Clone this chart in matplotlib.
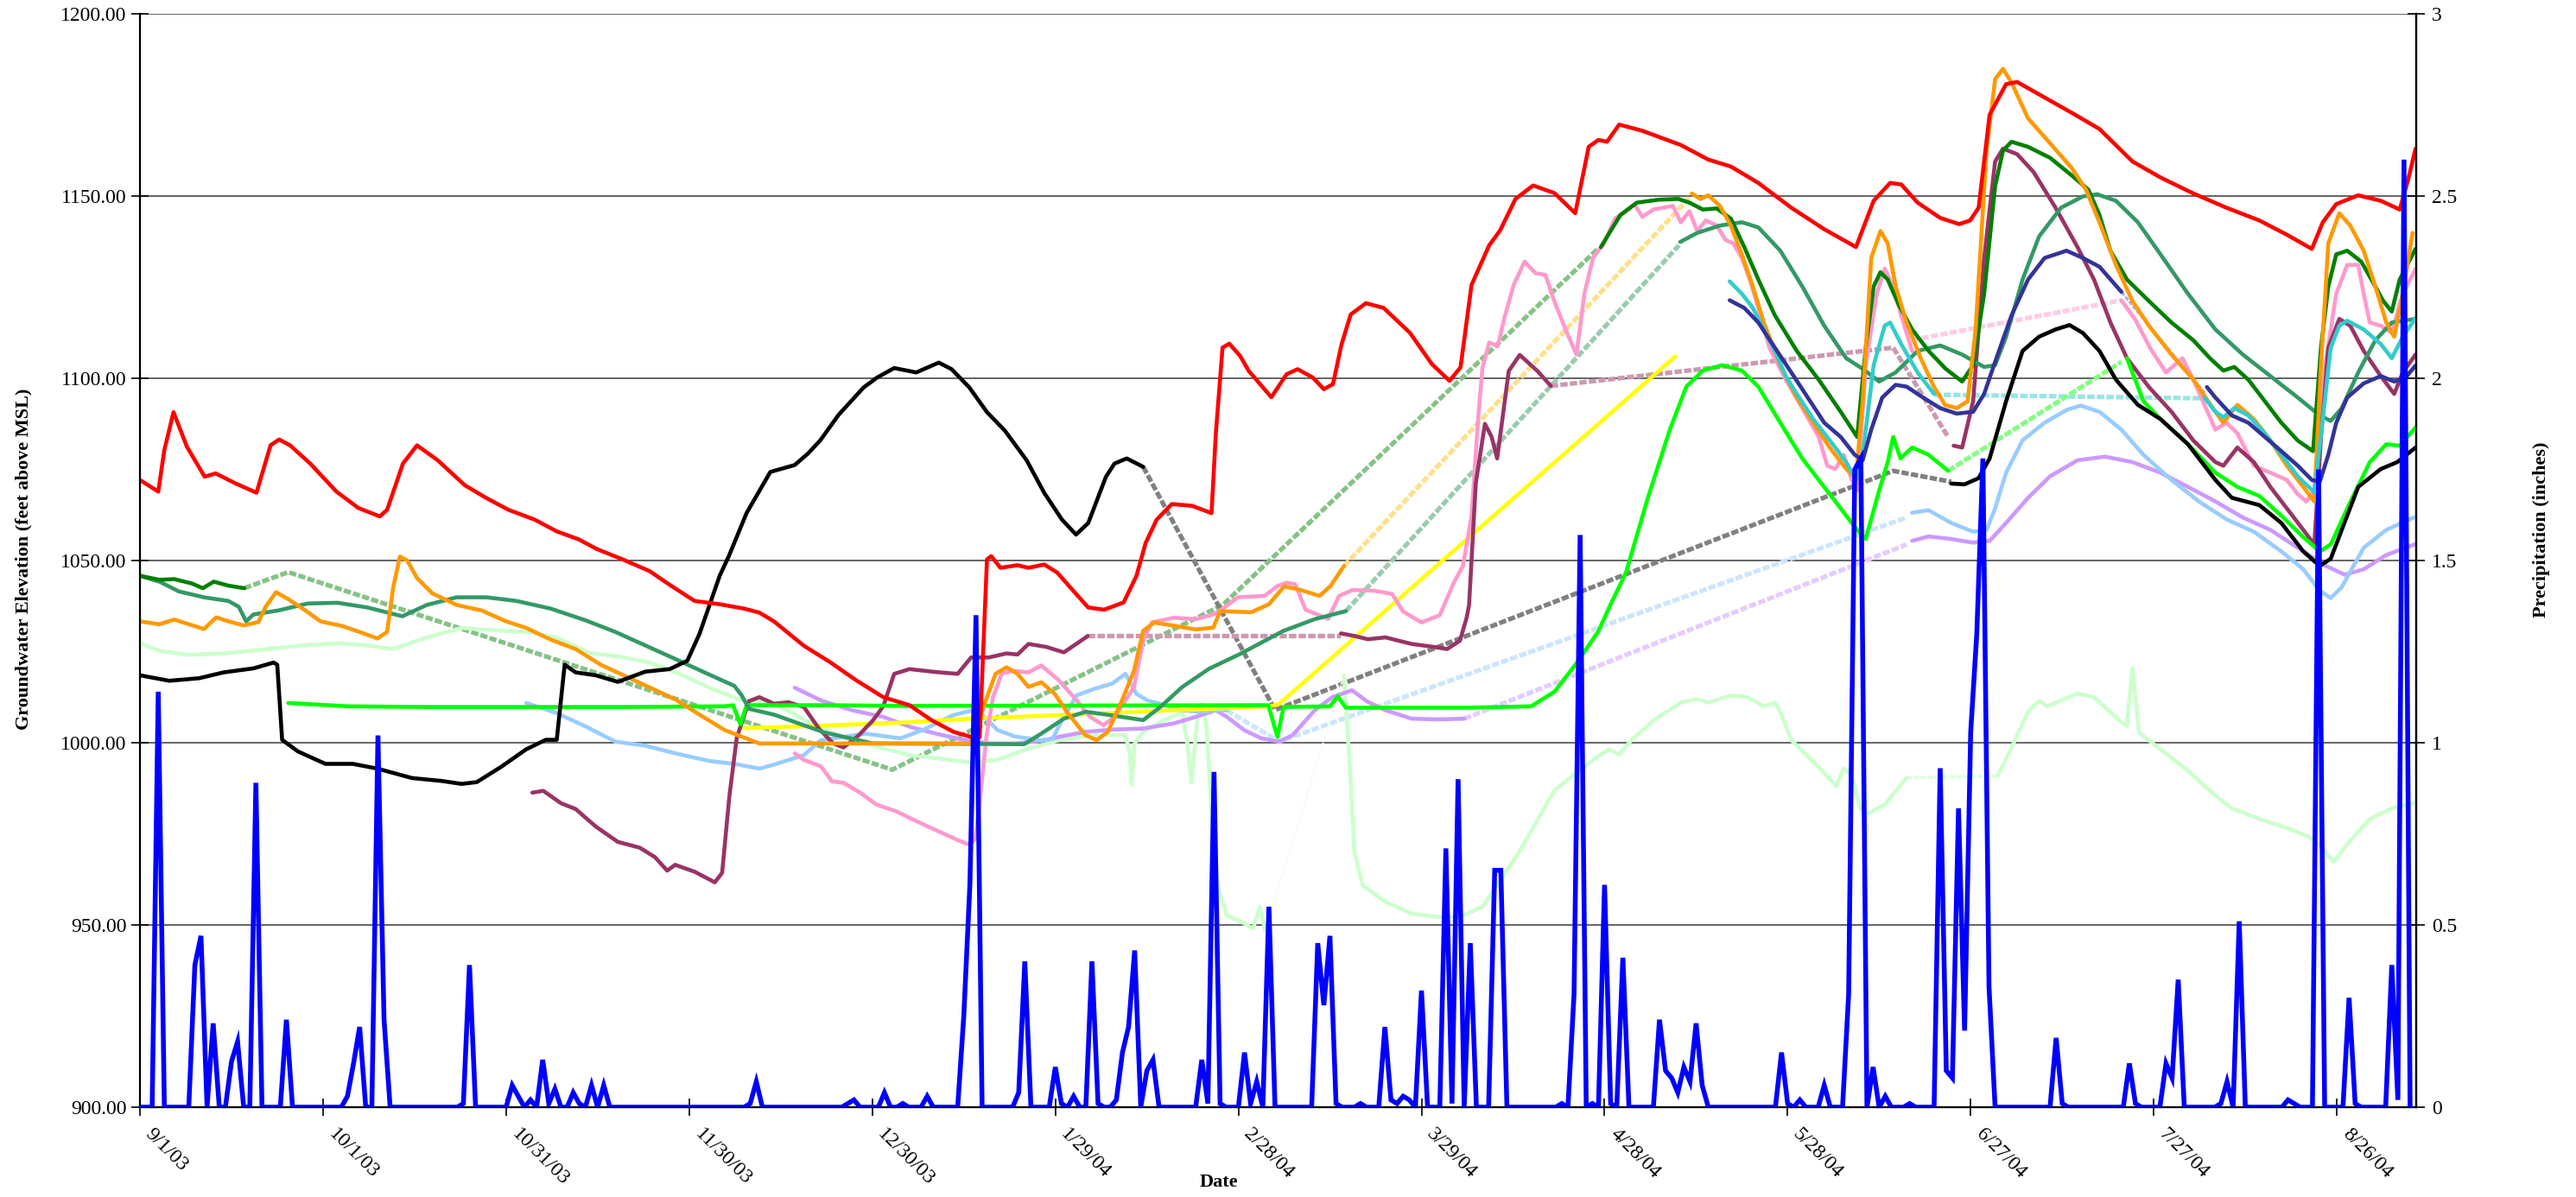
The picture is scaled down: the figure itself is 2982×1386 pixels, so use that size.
import datetime
import numpy as np
import matplotlib
matplotlib.use("Agg")
import matplotlib.pyplot as plt
import matplotlib.dates as mdates
import matplotlib.transforms as mtransforms
from matplotlib.ticker import FixedLocator, FuncFormatter

plt.rcParams['font.family'] = ['Liberation Serif', 'DejaVu Serif']

START = datetime.datetime(2003, 9, 1)
N_DAYS = 373
TICK_STEP = 30

# ---------------- groundwater series (day offset from 9/1/03, elevation ft) ----------------
red_days = [0,3,4,5.5,7.7,10.6,12.4,15.6,19.1,21.4,22.8,24.6,27.9,32.2,35.8,39.3,40.5,43.1,45.4,48.8,53.2,56.8,60.4,64.7,68.3,71.9,74.8,79.1,83.5,87.1,90.9,95,99,101.5,103.9,108.8,113.1,117.4,121.8,126.1,129.7,133.3,136.2,137.6,138.8,139.5,141,143.8,145.6,148.2,150.3,153.2,155.4,158,161.2,163.3,164.8,166.6,169.1,172.4,175.6,176.3,177.4,178.5,180.3,181.7,185.4,187.9,189.7,192.2,194,195.5,196.9,198.4,200.9,203.8,208.1,211.7,214.6,216.4,218.2,221.1,222.9,225.4,228.3,231.8,235.2,237.4,239,240.4,242.4,246.2,252.5,257,260.7,265.2,270.6,276,281.2,284.1,286.8,288.6,291.3,295,298.1,299.9,301.3,303.1,305.8,307.6,313,316.6,321.1,326.5,331.1,336.5,341.9,347.3,351.8,355.9,357.7,359.9,363.5,367.2,370.3,371.7,372.9]
red_vals = [1072.1,1068.9,1080.3,1090.7,1081.2,1073,1073.9,1071.2,1068.6,1081.6,1083.2,1081.6,1076.6,1068.9,1064.4,1062.1,1063.9,1076.6,1081.6,1077.5,1070.7,1067.1,1063.9,1061.2,1058,1055.8,1053.2,1050.3,1047.1,1043,1038.9,1038,1036.8,1035.7,1033.3,1026.6,1022.1,1017.1,1012.5,1010.3,1006.2,1003,1001.6,1001.5,1050.3,1051.2,1048,1048.7,1048,1048.9,1046.7,1041.2,1037.1,1036.5,1038.5,1045.8,1054.8,1061.2,1065.5,1065,1063,1084.8,1108.4,1109.5,1106.1,1102,1094.8,1101.1,1102.5,1100.2,1097,1098.4,1109.3,1117.5,1120.6,1119.3,1112.5,1103.9,1099.3,1103,1125.6,1136.5,1140.6,1149.2,1152.9,1150.8,1145.3,1163.5,1165.4,1164.9,1169.6,1167.9,1164,1160,1158.1,1153.6,1146.8,1140.9,1136,1148.7,1153.6,1153.2,1148.2,1144,1142.3,1143.3,1146.8,1172.3,1180.7,1181.3,1176.2,1172.8,1168.4,1159.5,1155.1,1150.7,1146.8,1143.3,1139.4,1135.5,1142.8,1147.8,1150.2,1148.7,1146.3,1154.6,1163]

black1_days = [0,4.8,9.7,13.7,18.6,21.9,22.5,23.3,25.9,30.4,34.9,38.9,44.6,49.5,52.7,55.2,59.2,63.3,66.5,68.3,69.6,71.4,74.7,78.3,82.8,86.8,89.7,91.7,95,96.5,99.4,103.3,107.3,109.5,111.5,114.5,118.6,120.8,123.6,127.2,130.9,133,135.9,138.8,141.7,145.3,148.2,151.1,153.4,155.4,158.3,159.7,161.7,164.4]
black1_vals = [1018.5,1017,1017.7,1019.3,1020.4,1022,1021.4,1000.8,997.6,994.2,994.2,992.9,990.3,989.5,988.7,989.2,993.4,998.2,1000.8,1000.8,1021.4,1019.3,1018.5,1016.7,1019.5,1020.2,1022.5,1029.9,1045.8,1051.2,1063,1074.3,1076.2,1079.4,1083,1090,1097.5,1100.2,1102.8,1101.6,1104.3,1102.5,1097.5,1090.7,1085.7,1077.5,1068.5,1061.2,1057.1,1060.3,1073,1076.6,1078,1075.7]
black2_days = [296.8,299,301.3,303.1,305.8,308.5,311.2,313.9,316.2,318.4,321.1,323.8,327.4,331.1,335.6,340.1,342.8,347.3,350.9,354.5,357.2,359,360.8,363.5,367.2,369.9,372.9]
black2_vals = [1071.1,1070.9,1072.6,1078,1093.7,1107.5,1111.4,1113.4,1114.6,1112.4,1107.5,1099.6,1092.7,1088.8,1081.9,1072.1,1067.2,1065.2,1060.3,1052.5,1048.5,1050.5,1058.4,1070.2,1075.1,1077,1081]
gray_days = [164.4,186,287.3,296.8]
gray_vals = [1075.7,1009,1074.6,1071.6]

orange1_days = [0,3.2,5.6,10.5,12.5,14.5,17,19.4,20.6,22.3,24.3,27.1,29.6,33.2,36.5,38.9,40.5,41.5,42.6,43.8,45.4,47.9,51.9,56,60,63.3,67.3,71.4,75.5,79.5,83.6,87.7,91.7,95.8,99,101.5,136.2,138.4,140.2,142,143.8,145.6,147.7,149.9,152.1,154.9,156.8,158.6,160.7,162.9,164.4,166.2,169.4,173,175.9,177,182.1,185,187.5,190,193.3,195.1,197.3]
orange1_vals = [1033.3,1032.5,1033.8,1031.2,1034.4,1033.3,1032.2,1033.1,1037.3,1041.3,1039.4,1036.3,1033.3,1032,1030.1,1028.6,1030.4,1042.6,1051.1,1050,1045.2,1041,1037.8,1036.3,1033.3,1031.5,1028.3,1025.7,1021.4,1018.3,1015.1,1011.9,1007.7,1003.5,1001.4,999.8,999.8,1010.7,1018.9,1020.7,1018.9,1015.3,1016.6,1013.4,1008,1002.1,1000.7,1003,1010.7,1019.8,1030.7,1033,1032.1,1031.1,1031.6,1036.1,1035.8,1038,1042.9,1042,1040.3,1043,1048.5]
orange_gap_days = [197.3,253.9]
orange_gap_vals = [1048.5,1149.5]
orange2_days = [254.3,255.7,257,258.9,260.7,262.5,264.3,266.1,268.8,271.5,274.2,276.9,279.6,281.2,282.3,283.7,285.2,286.4,287.7,289.5,291.8,294,295.8,297.7,299.5,300.8,302.6,304,305.3,306.7,309.4,313,316.6,318.9,321.1,323.8,326.5,329.2,332.9,336.5,340.1,341.4,343.7,346.4,349.1,351.8,354.5,356.3,357.4,358.6,360.4,362.2,364.4,366.3,368.1,369.4,370.8,372.4]
orange2_vals = [1150.7,1149.2,1150.2,1147.3,1141.9,1134,1125.2,1115.3,1103.6,1094.7,1087.8,1081,1075.1,1072.6,1093.7,1133,1140.4,1137,1125.2,1115.3,1105.5,1097.6,1092.7,1091.8,1093.7,1113.4,1162.5,1182.1,1184.9,1181.1,1171.3,1164.5,1157.6,1151.7,1142.8,1131.1,1121.2,1114.4,1106.5,1099.6,1090.8,1087.8,1092.7,1088.8,1083,1076,1070.2,1066.2,1103.6,1137,1145.3,1141.9,1135,1125.2,1115.3,1111.4,1123.2,1139.9]

dkgreen1_days = [0,3.2,5.6,8.5,10.3,12.1,14.5,17.1]
dkgreen1_vals = [1045.8,1044.7,1044.9,1043.7,1042.4,1044.2,1043.1,1042.4]
dkgreen_gap_days = [17.1,24.3,123.3,177.5,238.9]
dkgreen_gap_vals = [1042.4,1046.8,992.6,1037.9,1135.5]
dkgreen2_days = [239.4,240.8,242.6,245.3,248.9,252.1,253.9,256.1,258.4,260.7,262.9,265.2,267.9,271.5,275.1,278.7,281.4,282.8,284.1,285.2,286.4,288.2,290.4,293.1,295.9,298.6,300.4,302.2,304,305.3,306.7,309.4,313,316.6,319.3,321.1,322.9,325.6,329.2,332.9,336.5,339.2,341.4,343.2,345.5,348.2,350.9,353.6,356.1,357.4,358.6,359.9,361.7,364,366.3,367.6,369,370.3,372.1,372.9]
dkgreen2_vals = [1136,1139.9,1144.8,1148.2,1149,1149.2,1148.2,1146.3,1146.6,1143.8,1136,1127.1,1117.3,1107.5,1099.6,1090.8,1083.9,1108.4,1125.2,1129.1,1127.1,1120.2,1113.4,1107.5,1102.6,1099.1,1103.6,1123.2,1152.7,1162.5,1164.9,1163.5,1160.5,1155.6,1151.7,1144.8,1135,1127.1,1121.2,1115.3,1110.4,1105.5,1102.1,1103.1,1099.6,1093.7,1087.8,1082.9,1080,1108.4,1125.2,1134,1135,1132,1125.2,1121.2,1118.3,1127.1,1133,1135.5]

seagreen1_days = [0,3.2,6.4,10.5,14.5,16.2,17.4,18.6,22.7,27.5,32.4,37.3,43,47,51.9,56.8,61.7,67.3,73,77.9,82.8,87.7,92.5,97.4,98.6,99.8,103.9,112,120.1,144.9,147.7,151.4,155,159.3,164.4,167.2,170.8,175.2,180.2,187.4,192.5,197.6]
seagreen1_vals = [1045.8,1044.2,1041.5,1039.9,1038.9,1037.3,1033.3,1035.2,1036.3,1038.2,1038.4,1037.1,1034.7,1037.8,1039.9,1039.9,1038.9,1036.8,1033.6,1030.4,1026.7,1023,1019.3,1015.6,1013,1009.3,1007.7,1002.9,999.8,999.6,1002.5,1006.6,1008.5,1007.5,1006.2,1009.8,1015.3,1020.3,1024.3,1030.7,1033.9,1036.1]
seagreen_gap_days = [197.6,252.2]
seagreen_gap_vals = [1036.1,1136.5]
seagreen2_days = [252.4,255.2,258.9,262.5,265.2,268.8,272.4,276,279.6,282.3,285,287.7,291.3,295,298.6,302.2,304,305.8,308.5,311.2,314.8,318.4,320.7,323.8,327.4,331.1,335.6,340.1,344.6,349.1,353.6,357.2,359,360.8,363.5,366.3,369,372.9]
seagreen2_vals = [1137.4,1139.9,1141.9,1142.8,1141.4,1135,1125.2,1114.4,1105.5,1102.6,1099.1,1101.6,1107.5,1109,1106.5,1103.1,1103.6,1111.4,1127.1,1138.9,1146.8,1149.9,1150.5,1148.7,1142.8,1134,1123.2,1113.4,1106.5,1100.6,1094.7,1089.8,1088.3,1091.8,1101.6,1110.4,1115.3,1116.3]

mint1_days = [0,3.2,8,14.5,21,26.7,32.4,37.3,41.4,47,52.7,58.4,63.3,68.2,73.8,78.7,83.6,88.5,93.3,98.2,103.9,109.6,115.3,120.1,126.1,136.2,140.5,144.9,150.6,156.4,161.5,162.2,162.5,163,164.4,167.9,170.8,171.6,172.3,173.4,174.1,174.8,175.5,176.6,178.1,181,182.4,183.5,184.4]
mint1_vals = [1027.3,1025.2,1024.1,1024.6,1025.7,1026.7,1027.3,1026.7,1025.7,1028.9,1031.5,1030.8,1030.4,1028.9,1024.6,1023.6,1022,1018.8,1015.1,1011.9,1010.9,1005.6,1001.4,999.2,996.6,994.6,995.3,998,1000.7,1002.1,1002.1,997.1,988.5,999.8,1003,1006.2,1008.5,1000,989,1008.9,1010.7,1004.4,983.5,960.8,952.6,950.4,949,954.9,948.5]
mint_gap1_days = [184.4,197.3]
mint_gap1_vals = [948.5,1018.4]
mint2_days = [197.3,198.3,199,200.4,204.1,208.4,212.7,216.3,220,226,231.8,235.4,239,240.8,242.4,244.4,248,252.5,255.2,257,260.7,263.4,266.1,267.9,268.8,270.6,274.2,278,279.2,280.5,281.9,283.2,285.9,289.5]
mint2_vals = [1018.4,992.6,969.9,960.8,956.3,953.1,952.2,952.2,955,970,986.9,991.8,996.3,998.2,996.8,1000.7,1006.1,1011,1012,1011,1013,1012.5,1010,1011,1008.5,1000.7,994.8,988.1,993,990.9,982,980.6,983,990.4]
mint_gap2_days = [289.5,304.4]
mint_gap2_vals = [990.4,990.9]
mint3_days = [304.4,306.7,309.4,311.2,312.6,317.5,320.2,324.7,325.6,326.5,327.6,331.1,335.6,340.1,342.8,347.3,351.8,355.4,357.2,359.5,361.7,365.4,369,372.9]
mint3_vals = [990.9,998.7,1008.5,1011.5,1010,1013.5,1012.5,1005.6,1004.6,1020.5,1002.7,998.2,992.3,985.5,982,979.1,976.6,974.2,971.7,967.3,972.2,979.1,982,983.5]

bgreen1_days = [24.3,34,47,63.3,79.5,95.8,97.2,98.4,99.4,112,125.7,184.9,186.4,187.4,195,196.3,197.6,217.6,228,231.8,235.4,239,241,243.5,247.1,250.7,253.4,256.1,259.3,262.5,265.2,268.8,272.4,276.9,281.4,282.8,285,286.4,287.3,288.5,290.4,293.1,296.3]
bgreen1_vals = [1010.9,1010,1009.8,1009.8,1009.8,1010,1010.3,1005,1010.3,1010.3,1010.1,1010.3,1001.6,1009.8,1010,1012.7,1009.6,1009.6,1010,1014,1021.8,1030.6,1038,1046.6,1067.2,1085.9,1097.7,1102.1,1103.6,1102.1,1097.7,1087.8,1078,1068.2,1058.4,1055.9,1069.2,1077,1083.9,1078,1081,1079,1074.6]
bgreen_gap_days = [296.3,324.7]
bgreen_gap_vals = [1074.6,1104.5]
bgreen2_days = [325.6,328.3,331.1,335.6,340.1,343.7,347.3,350.9,354.5,357.2,359,361.7,365.4,368.1,370.3,372.9]
bgreen2_vals = [1105.5,1093.7,1088.8,1081.9,1074.1,1070.2,1067.7,1062.3,1056.4,1052.5,1054.4,1064.3,1077,1081.9,1081.5,1086.5]

ltblue1_days = [63.3,68.2,73,77.9,82.8,87.7,93.3,97.4,101.5,103.9,108.8,111.6,118.9,124.6,128.3,133.3,136.2,138.4,140.5,143.4,147.7,149.5,151.4,153.5,156.4,159.3,161.5,163.3,165.1,168,170.8,173.7,176.6,178.1]
ltblue1_vals = [1010.9,1008.2,1004.5,1000.3,999.2,997.1,995,994.2,992.9,994,996.6,1000.7,1002.5,1001.2,1003.5,1007.6,1008.8,1007.1,1003.5,1001.7,1000.7,1001,1007.1,1013,1014.8,1016.2,1018.9,1013.4,1011.6,1010.3,1008.9,1008.5,1008.9,1008.9]
ltblue_gap_days = [178.1,186.7,289.5]
ltblue_gap_vals = [1008.9,1000.3,1061.8]
ltblue2_days = [290.4,293.1,296.8,300.4,302.6,304,305.8,308.5,312.1,315.7,318,321.1,324.7,328.3,332.9,337.4,341.9,346.4,350.9,354.5,357.2,359,360.8,364.4,368.1,372.9]
ltblue2_vals = [1063.1,1063.8,1060.3,1057.9,1058.4,1064.3,1074.1,1083,1087.8,1091.3,1092.5,1090.8,1085.9,1079,1072.1,1066.2,1061.3,1057.9,1052.5,1047.6,1041.7,1039.7,1042.7,1053.5,1058.4,1062]

maroon1_days = [64.3,66.1,69,71.4,74.7,78.3,81.9,84.4,86.4,87.7,90.9,94.2,95.4,96.6,97.8,99.8,101.5,103.9,106.3,108.8,111.2,113.6,115.3,117.7,120.1,121.8,123.6,126.1,130.4,134,136.2,139.1,142,143.8,145.6,148.5,151.4,155,155.3]
maroon1_vals = [986.3,986.8,983.4,981.8,977,972.8,971.2,968.6,964.9,966.5,964.6,961.7,964.3,985.5,1001.4,1011.4,1012.5,1010.7,1011.1,1009.8,1004,999.8,998.7,1001.9,1006.1,1010,1018.9,1020.2,1019.4,1018.9,1023.4,1023.4,1024.5,1024.2,1027.1,1026.3,1024.8,1028.9,1029.3]
maroon_gap1_days = [155.3,196.8]
maroon_gap1_vals = [1029.3,1029.3]
maroon2_days = [196.8,199,201.2,204.1,208.4,212,214.2,216.3,217.4,217.8,218.9,220.4,221.5,222.4,223.3,224.3,226.1,229,231.2]
maroon2_vals = [1030,1029.3,1028.4,1028.9,1027.1,1026.3,1025.7,1028,1034.3,1037.8,1071.2,1087.5,1083.9,1078,1089.3,1102,1106.4,1102,1097.9]
maroon_gap2_days = [231.2,287.3,296.3]
maroon_gap2_vals = [1097.9,1108.4,1083.9]
maroon3_days = [297.2,298.6,300.4,302.2,304,305.3,307.6,310.3,313.9,317.5,320.2,322.9,325.6,329.2,332.9,336.5,340.1,341.4,343.7,346.4,349.1,351.8,354.5,356.3,357.4,358.6,360.4,362.2,364.4,367.2,369.4,370.8,372.9]
maroon3_vals = [1081.5,1081,1093.7,1133,1159.5,1163,1161.5,1156.6,1146.8,1136,1127.1,1115.3,1105.5,1097.6,1090.8,1082.9,1077,1076,1081,1077,1070.2,1064.3,1058.4,1054.4,1083.9,1108.4,1116.3,1114.4,1107.5,1100.6,1095.7,1101.6,1106.5]

pink1_days = [107.3,108.8,111.6,113.4,115.3,118.1,120.7,123.9,126.1,129,131.9,134,135.8,136.9,137.6,138.7,139.8,141.2,143,145.6,147.7,150.6,153.5,155.7,157.9,159.7,161.5,162.9,164.4,165.8,169.4,173,175.9,177.3,179.9,184.3,186.4,187.9,189.3,191,194.7,196.5,198.7,202.3,205.2,207,210,213,215.3,216.8,218.2,219.3,220,221.1,222.5,223.6,225.1,226.9,228.7,230.3,231.8,233.6,235.4,236.7,238.1,239.9,241.7,243.5,244.9,246.2,248,251.2,252.5,253.9,255.2,256.6,258.4,259.8,261.1,262.5,263.8,265.2,267,269.7,272.4,275.1,276.5,277.8,279.2,280.5,281.4,282.8,284.6,285.9,287.3,288.6,290.4]
pink1_vals = [997.1,995.3,993.5,989.4,989,986.2,983,981.2,979.4,977.1,974.9,973.3,972.1,973.5,983.5,1001.6,1012.5,1018.9,1019.8,1019.3,1021.2,1017.1,1011.6,1007.1,1004.8,1007.1,1011.6,1015.3,1028,1033,1034.3,1033.9,1035.2,1036.6,1039.9,1040.3,1043,1043.9,1043.5,1036.5,1034,1040.3,1041.9,1041.7,1040.8,1036,1033,1035,1043.9,1048.5,1062.1,1089.3,1102.9,1109.8,1108.8,1116.6,1125.6,1132,1128.8,1128.4,1121,1113.4,1106.5,1123.2,1133,1137,1143.8,1145.8,1147.7,1144.3,1146.3,1147.3,1142.8,1145.8,1140.4,1143.3,1141.9,1138,1137,1133,1127.1,1119.3,1108.4,1099.6,1091.8,1083.9,1076,1075.1,1079,1072.1,1069.2,1103.6,1123.2,1130.1,1125.2,1117.3,1107.5]
pink_gap_days = [290.4,324.7]
pink_gap_vals = [1110.5,1121.4]
pink2_days = [324.7,327,329.5,332,334.7,336.5,340.1,341.9,343.7,346.4,349.1,351.8,353.6,355,356.3,357.2,358.1,359.9,361.7,363.5,364.4,365.4,367.2,369,370.8,372.9]
pink2_vals = [1121.4,1116,1108,1101.6,1105.5,1099.6,1085.9,1087.8,1084.9,1076,1074.1,1072.1,1068.2,1066.2,1069.2,1083.9,1103.6,1123.2,1131.1,1131.1,1123.2,1115.3,1114.4,1112.4,1123.2,1130]

lav1_days = [107.3,111.6,116.7,121.8,126.1,130.4,134.7,139.1,143.4,147.7,150.6,155,159.3,164.4,169.4,173,176.3,178.1,181,183.8,186.7,188.9,192.5,195.4,198.6,201.2,204.1,208.4,212.7,217]
lav1_vals = [1015.1,1011.6,1008.9,1007.1,1004.4,1002.5,1000.9,999.8,999.8,1000.5,1001.6,1003,1003.6,1003.9,1005.3,1007.1,1008.9,1007.1,1003.4,1001.2,1000.3,1002.1,1008.9,1012.5,1014.4,1011.2,1008.9,1006.6,1006.4,1006.6]
lav_gap_days = [217,289.5]
lav_gap_vals = [1006.6,1054.4]
lav2_days = [290.4,293.1,296.8,300.4,303.1,305.8,309.4,313,317.5,322,326.5,331.1,335.6,340.1,344.6,349.1,353.6,358.1,361.3,364.4,368.1,372.9]
lav2_vals = [1055.4,1056.6,1055.9,1054.9,1055.4,1060.3,1067.2,1073.1,1077.5,1078.5,1077,1074.1,1070.2,1066.2,1061.8,1058.4,1053.5,1048.6,1046.1,1047.6,1051.5,1054.5]

yellow_days = [99,112,125.7,136.2,185.3,186.7,251.6]
yellow_vals = [1004,1004.7,1005.6,1006.6,1010,1010.7,1106]

teal1_days = [260.5,262.5,264.3,266.1,267.9,269.7,271.5,274.2,276.9,279.6,281.2,282.3,284.1,285.9,286.8,288.6,291.3,294]
teal1_vals = [1126.6,1123.2,1119.3,1113.4,1107.5,1100.6,1095.7,1088.8,1083,1077,1072.1,1079,1103.6,1114.4,1115.3,1109.4,1101.6,1095.7]
teal_gap_days = [294,338]
teal_gap_vals = [1095.5,1094.5]
teal2_days = [338.3,340.1,341.4,343.2,345.5,348.2,350.9,353.6,356.3,357.7,359,360.4,361.7,364.4,367.2,369,370.8,372.9]
teal2_vals = [1094.7,1090.8,1089.3,1091.8,1089.8,1084.9,1079,1073.1,1068.7,1088.8,1108.4,1114.4,1115.8,1113.4,1109.4,1105.5,1111.4,1116.5]

navy1_days = [260.5,262.9,265.2,267.9,270.6,273.3,276,278.7,281,282.3,283.7,285.5,287.7,289.5,292.2,295,297.7,300.4,302.2,304,306.7,309.4,312.1,315.7,318.4,321.1,324.7]
navy1_vals = [1121.4,1119.3,1115.3,1108.4,1101.6,1094.7,1087.8,1083.9,1079,1077.5,1085.9,1094.7,1098.2,1097.7,1094.7,1091.8,1090.3,1090.8,1095.7,1104.5,1117.3,1127.1,1133,1135,1133,1130.6,1123.7]
navy_gap_days = [324.7,338.3]
navy_gap_vals = [1123.7,1096]
navy2_days = [338.7,340.1,342.8,345.5,348.2,350.9,353.6,355.9,357.2,358.6,359.9,361.7,364.4,367.2,369.4,371.2,372.9]
navy2_vals = [1097.6,1094.7,1089.8,1087.8,1083.9,1080,1076,1072.1,1071.6,1079,1087.8,1094.7,1098.6,1100.6,1099.1,1100.1,1103.5]

# ---------------- precipitation (inches), rainy days only; other days are 0 ----------------
precip_days = [3,9,10,12,15,16,19,24,34,35,36,39,40,53,54,61,62,64,66,67,68,71,72,74,76,100,101,116,117,122,125,129,135,136,137,144,145,150,151,153,156,157,160,161,162,163,165,166,174,175,176,177,181,182,183,185,193,194,195,196,200,204,205,206,207,208,210,214,215,216,218,222,223,233,235,236,238,240,241,243,249,250,251,252,253,254,255,256,269,270,272,276,280,281,282,284,286,290,295,296,297,298,299,300,301,302,303,314,315,326,327,332,333,334,341,342,344,352,353,357,362,363,369,370,371]
precip_vals = [1.14,0.39,0.47,0.23,0.125,0.18,0.89,0.24,0.03,0.12,0.22,1.02,0.24,0.01,0.39,0.06,0.03,0.02,0.13,0.01,0.05,0.04,0.01,0.06,0.06,0.01,0.07,0.01,0.02,0.04,0.01,0.03,0.25,0.61,1.35,0.04,0.40,0.11,0.01,0.03,0.40,0.01,0.02,0.15,0.22,0.43,0.10,0.13,0.13,0.01,0.92,0.01,0.15,0.01,0.07,0.55,0.45,0.28,0.47,0.01,0.01,0.22,0.02,0.01,0.03,0.02,0.32,0.71,0.01,0.90,0.45,0.65,0.65,0.01,0.31,1.57,0.01,0.61,0.01,0.41,0.24,0.10,0.08,0.04,0.11,0.07,0.23,0.06,0.15,0.01,0.02,0.06,0.31,1.75,1.78,0.11,0.03,0.01,0.93,0.10,0.08,0.82,0.21,1.03,1.30,1.78,0.33,0.19,0.01,0.12,0.01,0.12,0.08,0.35,0.01,0.07,0.51,0.02,0.01,1.75,0.30,0.01,0.39,0.02,2.60]

# ---------------- figure ----------------
W, H = 2982, 1386
fig = plt.figure(figsize=(W / 100, H / 100), dpi=100)
L, R, T, B = 162, 2797, 16, 1282
ax = fig.add_axes([L / W, 1 - B / H, (R - L) / W, (B - T) / H])
base = mdates.date2num(START)


def X(days):
    return base + np.asarray(days, dtype=float)


MAIN_LW = 3.3
GAP_LW = 3.8
GAP_LS = (0, (1.6, 0.5))


def solid(d, v, c, z=3, lw=MAIN_LW):
    ax.plot(X(d), v, color=c, lw=lw, solid_joinstyle='round', solid_capstyle='round', zorder=z)


def gap(d, v, c, z=2, lw=GAP_LW):
    ax.plot(X(d), v, color=c, lw=lw, ls=GAP_LS, zorder=z)


# interpolation (gap) segments
gap(dkgreen_gap_days, dkgreen_gap_vals, '#86C286')
gap(seagreen_gap_days, seagreen_gap_vals, '#99CCB0')
gap(orange_gap_days, orange_gap_vals, '#FFE08A')
gap(gray_days, gray_vals, '#808080')
gap(ltblue_gap_days, ltblue_gap_vals, '#CCE5FF')
gap(lav_gap_days, lav_gap_vals, '#E5CCFF')
gap(maroon_gap1_days, maroon_gap1_vals, '#CC99B0')
gap(maroon_gap2_days, maroon_gap2_vals, '#CC99B0')
gap(pink_gap_days, pink_gap_vals, '#FFCCE5')
gap(teal_gap_days, teal_gap_vals, '#99E5E5')
gap(navy_gap_days, navy_gap_vals, '#B3B3E0', lw=2.4)
gap(bgreen_gap_days, bgreen_gap_vals, '#80FF80')
gap(mint_gap1_days, mint_gap1_vals, '#EEFFEE', lw=1.4)
gap(mint_gap2_days, mint_gap2_vals, '#DDFFDD', lw=2.8)

# measured series
for d, v in [(mint1_days, mint1_vals), (mint2_days, mint2_vals), (mint3_days, mint3_vals)]:
    solid(d, v, '#CCFFCC')
solid(lav1_days, lav1_vals, '#CC99FF')
solid(lav2_days, lav2_vals, '#CC99FF')
solid(ltblue1_days, ltblue1_vals, '#99CCFF')
solid(ltblue2_days, ltblue2_vals, '#99CCFF')
solid(yellow_days, yellow_vals, '#FFFF00')
solid(pink1_days, pink1_vals, '#FF99CC')
solid(pink2_days, pink2_vals, '#FF99CC')
solid(maroon1_days, maroon1_vals, '#993366')
solid(maroon2_days, maroon2_vals, '#993366')
solid(maroon3_days, maroon3_vals, '#993366')
solid(bgreen1_days, bgreen1_vals, '#00FF00')
solid(bgreen2_days, bgreen2_vals, '#00FF00')
solid(seagreen1_days, seagreen1_vals, '#339966')
solid(seagreen2_days, seagreen2_vals, '#339966')
solid(dkgreen1_days, dkgreen1_vals, '#008000')
solid(dkgreen2_days, dkgreen2_vals, '#008000')
solid(orange1_days, orange1_vals, '#FF9900')
solid(orange2_days, orange2_vals, '#FF9900')
solid(teal1_days, teal1_vals, '#33CCCC')
solid(teal2_days, teal2_vals, '#33CCCC')
solid(navy1_days, navy1_vals, '#333399')
solid(navy2_days, navy2_vals, '#333399')
solid(black1_days, black1_vals, '#000000')
solid(black2_days, black2_vals, '#000000')
solid(red_days, red_vals, '#FF0000')

ax.set_xlim(base, base + N_DAYS)
ax.set_ylim(900, 1200)
ax.yaxis.set_major_locator(FixedLocator(np.arange(900, 1201, 50)))
ax.yaxis.set_major_formatter(FuncFormatter(lambda v, p: f"{v:.2f}"))
ax.yaxis.grid(True, color='#3a3a3a', lw=1.1, zorder=0)
ax.set_axisbelow(True)

# x ticks with rotated date labels drawn as text just below each tick
tick_days = np.arange(0, N_DAYS, TICK_STEP)
tick_dates = [START + datetime.timedelta(days=int(d)) for d in tick_days]
tick_labels = [f"{t.month}/{t.day}/{t.strftime('%y')}" for t in tick_dates]
ax.set_xticks(X(tick_days))
ax.set_xticklabels([])
lbl_trans = mtransforms.blended_transform_factory(ax.transData, ax.transAxes) + \
    mtransforms.ScaledTranslation(17 / 100, -21 / 100, fig.dpi_scale_trans)
for xd, txt in zip(X(tick_days), tick_labels):
    ax.text(xd, 0, txt, transform=lbl_trans, rotation=-45, rotation_mode='anchor',
            ha='left', va='top', fontsize=17, clip_on=False)
ax.tick_params(axis='x', direction='inout', length=14, width=1.2)
ax.tick_params(axis='y', direction='inout', length=14, width=1.2, labelsize=17, pad=4)

for s in ['left', 'bottom', 'right']:
    ax.spines[s].set_linewidth(1.6)
    ax.spines[s].set_color('black')
ax.spines['top'].set_visible(False)

# precipitation on the secondary axis
ax2 = ax.twinx()
pdays = np.arange(0, N_DAYS)
pvals = np.zeros(N_DAYS)
pvals[np.array(precip_days)] = precip_vals
ax2.plot(X(pdays), pvals, color='#0000FF', lw=4.0, solid_joinstyle='miter', zorder=5)
ax2.set_ylim(0, 3)
ax2.set_xlim(base, base + N_DAYS)
ax2.yaxis.set_major_locator(FixedLocator([0, 0.5, 1, 1.5, 2, 2.5, 3]))
ax2.yaxis.set_major_formatter(FuncFormatter(lambda v, p: f"{v:g}"))
ax2.tick_params(axis='y', direction='inout', length=14, width=1.2, labelsize=17, pad=6)
ax2.spines['top'].set_visible(False)
ax2.spines['right'].set_linewidth(1.6)

fig.text(27 / W, 1 - 647 / H, 'Groundwater Elevation (feet above MSL)', rotation=90,
         ha='center', va='center', fontsize=16, fontweight='bold')
fig.text(2942 / W, 1 - 613 / H, 'Precipitation (inches)', rotation=90,
         ha='center', va='center', fontsize=16, fontweight='bold')
fig.text(1411 / W, 1 - 1369 / H, 'Date', ha='center', va='center', fontsize=16, fontweight='bold')

fig.savefig('out.png', dpi=100)
